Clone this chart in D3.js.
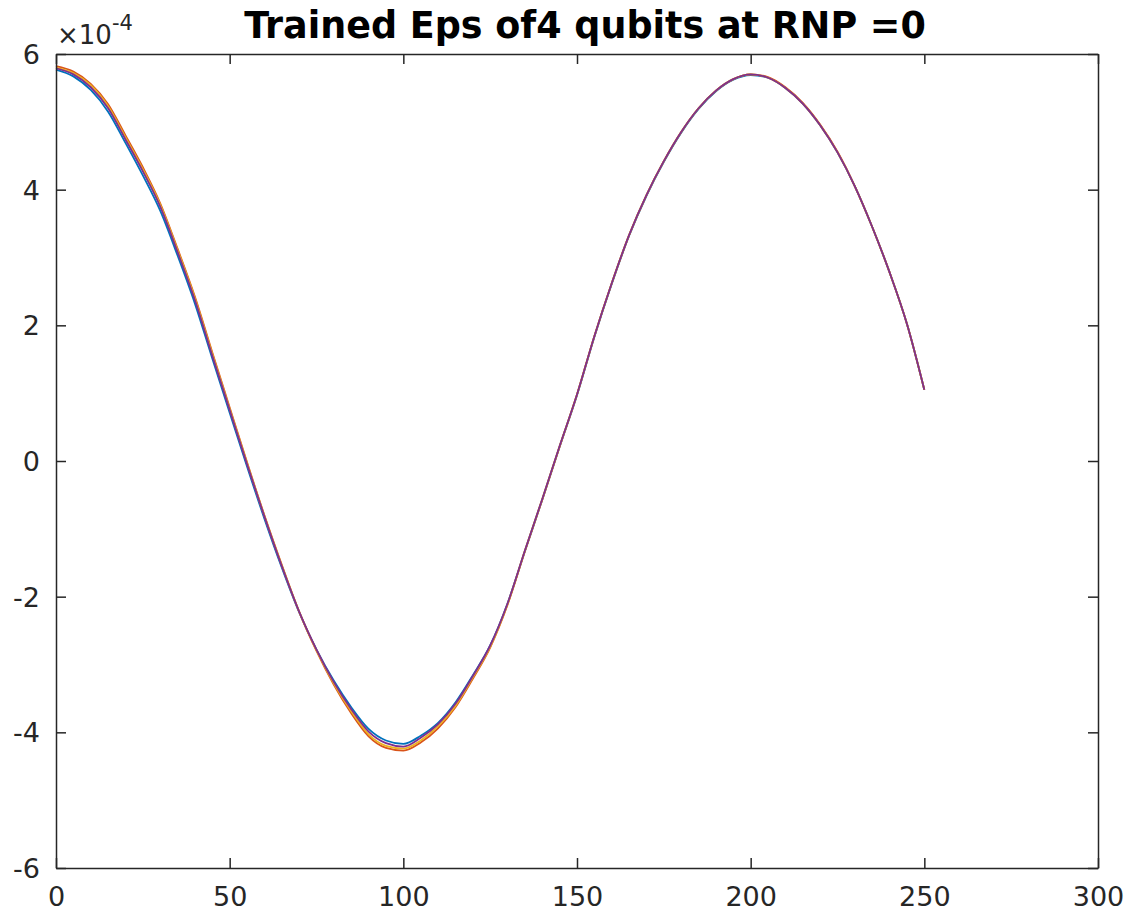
<!DOCTYPE html>
<html>
<head>
<meta charset="utf-8">
<script src="https://cdn.jsdelivr.net/npm/d3@7"></script>
<style>
  body { margin: 0; background: #fff; }
  text { font-family: "DejaVu Sans", sans-serif; }
</style>
</head>
<body>
<div id="chart"></div>
<script>
// step index (x axis)
var steps = [0, 5, 10, 15, 20, 25, 30, 35, 40, 45,
  50, 55, 60, 65, 70, 75, 80, 85, 90, 95,
  100, 105, 110, 115, 120, 125, 130, 135, 140, 145,
  150, 155, 160, 165, 170, 175, 180, 185, 190, 195,
  200, 205, 210, 215, 220, 225, 230, 235, 240, 245, 250];

// trained eps, in units of 1e-4, one array per qubit
var eps1 = [5.77, 5.67, 5.47, 5.15, 4.69, 4.21, 3.69, 3.03, 2.32, 1.51,
  0.71, -0.08, -0.85, -1.57, -2.23, -2.78, -3.24, -3.63, -3.95, -4.12,
  -4.17, -4.05, -3.86, -3.56, -3.16, -2.72, -2.10, -1.33, -0.57, 0.21,
  0.97, 1.83, 2.61, 3.32, 3.91, 4.41, 4.84, 5.19, 5.45, 5.62,
  5.69, 5.65, 5.50, 5.27, 4.95, 4.55, 4.05, 3.45, 2.78, 2.02, 1.05];
var eps2 = [5.82, 5.74, 5.56, 5.26, 4.80, 4.33, 3.80, 3.13, 2.42, 1.60,
  0.79, -0.02, -0.80, -1.53, -2.22, -2.80, -3.30, -3.72, -4.06, -4.23,
  -4.27, -4.15, -3.94, -3.63, -3.21, -2.75, -2.12, -1.33, -0.57, 0.21,
  0.98, 1.84, 2.62, 3.33, 3.92, 4.42, 4.85, 5.20, 5.46, 5.63,
  5.70, 5.66, 5.51, 5.28, 4.96, 4.56, 4.05, 3.45, 2.78, 2.02, 1.05];
var eps3 = [5.80, 5.72, 5.54, 5.23, 4.77, 4.30, 3.78, 3.11, 2.40, 1.58,
  0.77, -0.03, -0.81, -1.54, -2.22, -2.79, -3.28, -3.69, -4.03, -4.20,
  -4.24, -4.12, -3.91, -3.61, -3.19, -2.74, -2.11, -1.32, -0.56, 0.22,
  0.98, 1.84, 2.62, 3.33, 3.92, 4.42, 4.85, 5.20, 5.46, 5.63,
  5.70, 5.65, 5.50, 5.27, 4.95, 4.55, 4.05, 3.45, 2.78, 2.02, 1.05];
var eps4 = [5.79, 5.70, 5.51, 5.20, 4.74, 4.27, 3.75, 3.08, 2.37, 1.55,
  0.75, -0.05, -0.82, -1.55, -2.22, -2.78, -3.26, -3.66, -3.99, -4.16,
  -4.21, -4.08, -3.88, -3.58, -3.17, -2.72, -2.10, -1.32, -0.56, 0.22,
  0.98, 1.84, 2.62, 3.33, 3.92, 4.42, 4.85, 5.20, 5.46, 5.63,
  5.70, 5.65, 5.50, 5.27, 4.95, 4.55, 4.05, 3.45, 2.78, 2.02, 1.05];

var xTicks = [0, 50, 100, 150, 200, 250, 300];
var yTicks = [-6, -4, -2, 0, 2, 4, 6];

var svgWidth = 1140;
var svgHeight = 920;

var margin = { top: 54, right: 42, bottom: 52, left: 56 };
var width = svgWidth - margin.left - margin.right;
var height = svgHeight - margin.top - margin.bottom;

var svg = d3.select("#chart")
  .append("svg")
  .attr("width", svgWidth)
  .attr("height", svgHeight);

var chartGroup = svg.append("g")
  .attr("transform", `translate(${margin.left}, ${margin.top})`);

var xScale = d3.scaleLinear().domain([0, 300]).range([0, width]);
var yScale = d3.scaleLinear().domain([-6, 6]).range([height, 0]);

// lines (matlab default colour order)
var series = [
  { values: eps1, color: "#0072BD" },
  { values: eps2, color: "#D95319" },
  { values: eps3, color: "#EDB120" },
  { values: eps4, color: "#7E2F8E" }
];

var line = d3.line()
  .x((d, i) => xScale(steps[i]))
  .y(d => yScale(d))
  .curve(d3.curveMonotoneX);

series.forEach(function(s) {
  chartGroup.append("path")
    .datum(s.values)
    .attr("fill", "none")
    .attr("stroke", s.color)
    .attr("stroke-width", 1.8)
    .attr("d", line);
});

// axes, ticks inside on all four sides
var axisColor = "#262626";
var tickLen = 10;
var fmt = d => String(d); // plain hyphen minus like matlab

var xAxis = d3.axisBottom(xScale).tickValues(xTicks).tickFormat(fmt)
  .tickSizeInner(-tickLen).tickSizeOuter(0).tickPadding(19);
var yAxis = d3.axisLeft(yScale).tickValues(yTicks).tickFormat(fmt)
  .tickSizeInner(-tickLen).tickSizeOuter(0).tickPadding(16);

var gx = chartGroup.append("g")
  .attr("transform", `translate(0, ${height})`)
  .call(xAxis);
var gy = chartGroup.append("g").call(yAxis);

chartGroup.append("g")
  .call(d3.axisTop(xScale).tickValues(xTicks).tickSizeInner(-tickLen).tickSizeOuter(0).tickFormat(""));
chartGroup.append("g")
  .attr("transform", `translate(${width}, 0)`)
  .call(d3.axisRight(yScale).tickValues(yTicks).tickSizeInner(-tickLen).tickSizeOuter(0).tickFormat(""));

chartGroup.selectAll(".domain").attr("stroke", axisColor).attr("stroke-width", 1.5);
chartGroup.selectAll(".tick line").attr("stroke", axisColor).attr("stroke-width", 1.5);
chartGroup.selectAll(".tick text")
  .attr("fill", axisColor)
  .style("font-family", "DejaVu Sans")
  .style("font-size", "27px");
gx.selectAll(".tick text").attr("dy", "0.71em");
gy.selectAll(".tick text").attr("dy", "0.35em");

// exponent label
var expo = svg.append("text")
  .attr("x", 57)
  .attr("y", 44)
  .attr("fill", axisColor)
  .style("font-size", "26px");
expo.append("tspan").text("\u00d710");
expo.append("tspan").attr("dy", -14).style("font-size", "21px").text("-4");

// title
svg.append("text")
  .attr("x", 585)
  .attr("y", 38)
  .attr("text-anchor", "middle")
  .attr("fill", "#000")
  .style("font-weight", "bold")
  .style("font-size", "36.5px")
  .text("Trained Eps of4 qubits at RNP =0");
</script>
</body>
</html>
